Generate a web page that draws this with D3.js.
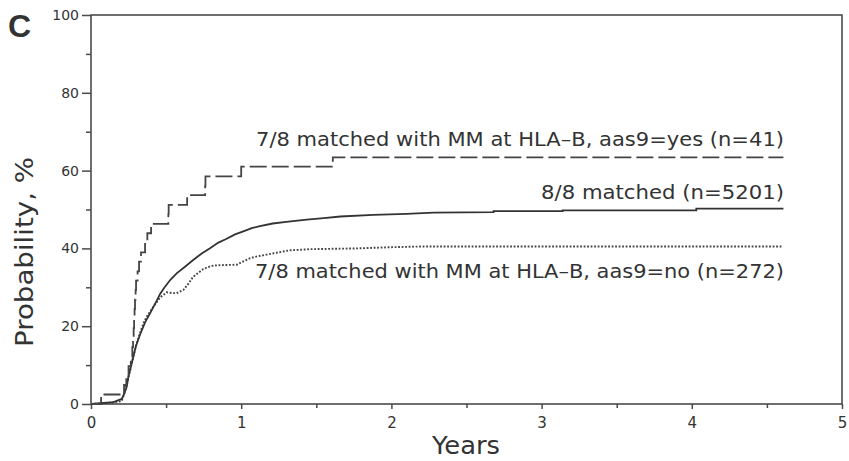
<!DOCTYPE html>
<html><head><meta charset="utf-8">
<script src="https://cdn.jsdelivr.net/npm/d3@7"></script>
<style>body{margin:0;background:#fff}svg{display:block}text{font-family:"DejaVu Sans",sans-serif;fill:#333}</style>
</head><body><svg id="c" width="849" height="461"></svg>
<script>
// ---- data ----
const xTicks = [0,1,2,3,4,5];
const xMinor = [0.5,1.5,2.5,3.5,4.5];
const yTicks = [0,20,40,60,80,100];
const yMinor = [10,30,50,70,90];

// 7/8 matched, aas9=yes (n=41) — step function
const yesTimes  = [0,0.067,0.22,0.235,0.25,0.265,0.275,0.28,0.284,0.287,0.29,0.293,0.297,0.30,0.31,0.32,0.333,0.36,0.375,0.40,0.515,0.517,0.64,0.76,0.762,1.0,1.61,4.61];
const yesValues = [0,2.44,4.88,7.32,9.76,12.2,14.6,17.1,19.5,22.0,24.4,26.8,29.3,31.7,34.1,36.6,39.0,41.5,43.9,46.3,48.8,51.2,53.7,56.1,58.5,61.0,63.4,63.4];

// 8/8 matched (n=5201)
const matchTimes  = [0,0.15,0.204,0.22,0.238,0.249,0.265,0.282,0.30,0.326,0.36,0.393,0.437,0.46,0.49,0.53,0.57,0.626,0.68,0.737,0.79,0.848,0.9,0.959,1.014,1.07,1.125,1.21,1.3,1.436,1.55,1.66,1.88,2.1,2.28,2.68,2.68,3.14,3.14,4.03,4.03,4.61];
const matchValues = [0,0.5,1.3,2.5,4.4,7.0,9.5,12.2,15.0,17.8,21.0,23.3,26.5,28.3,30.0,32.0,33.6,35.3,37.0,38.7,40.0,41.5,42.4,43.6,44.4,45.2,45.7,46.4,46.8,47.4,47.8,48.2,48.6,48.9,49.2,49.3,49.6,49.6,49.8,49.8,50.2,50.2];

// 7/8 matched, aas9=no (n=272)
const noTimes  = [0,0.1,0.204,0.22,0.238,0.26,0.282,0.30,0.326,0.35,0.37,0.415,0.46,0.504,0.54,0.57,0.615,0.65,0.68,0.748,0.8,0.86,0.97,1.0,1.06,1.1,1.17,1.21,1.32,1.46,1.77,1.99,2.21,4.6];
const noValues = [0,0.2,0.7,2.5,5.3,8.5,12.2,15.0,18.2,20.8,22.4,25.0,27.4,28.7,28.5,28.5,29.3,31.0,32.7,34.7,35.5,35.7,35.8,36.4,37.5,37.9,38.4,38.7,39.5,39.8,40.0,40.3,40.5,40.5];

const labels = ["7/8 matched with MM at HLA\u2013B, aas9=yes (n=41)", "8/8 matched (n=5201)", "7/8 matched with MM at HLA\u2013B, aas9=no (n=272)"];

// ---- chart ----
const svg = d3.select("#c");
const x = d3.scaleLinear().domain([0,5]).range([91,842]);
const y = d3.scaleLinear().domain([0,100]).range([404,15]);
const ink = "#4a4a4a";

// frame
svg.append("rect").attr("x",91).attr("y",15).attr("width",751).attr("height",389)
  .attr("fill","none").attr("stroke",ink).attr("stroke-width",1.6);

function styleAxis(g){ g.select(".domain").remove(); g.selectAll("line").attr("stroke",ink).attr("stroke-width",1.5); }

svg.append("g").attr("transform","translate(91,0)")
  .call(d3.axisLeft(y).tickValues(yTicks).tickSize(9).tickPadding(3).tickFormat(d3.format("d")))
  .call(styleAxis)
  .call(g=>g.selectAll("text").attr("font-size",14).attr("fill","#333").style("font-family","DejaVu Sans"));
svg.append("g").attr("transform","translate(91,0)")
  .call(d3.axisLeft(y).tickValues(yMinor).tickSize(5).tickFormat(""))
  .call(styleAxis);
svg.append("g").attr("transform","translate(0,404)")
  .call(d3.axisBottom(x).tickValues(xTicks).tickSize(5).tickPadding(8).tickFormat(d3.format("d")))
  .call(styleAxis)
  .call(g=>g.selectAll("text").attr("font-size",15).attr("fill","#333").style("font-family","DejaVu Sans"));
svg.append("g").attr("transform","translate(0,404)")
  .call(d3.axisBottom(x).tickValues(xMinor).tickSize(4).tickFormat(""))
  .call(styleAxis);

// curves
const stepLine = d3.line().x(d=>x(d[0])).y(d=>y(d[1])).curve(d3.curveStepAfter);
const lin = d3.line().x(d=>x(d[0])).y(d=>y(d[1]));

svg.append("path").attr("d", lin(d3.zip(noTimes,noValues)))
  .attr("fill","none").attr("stroke","#444").attr("stroke-width",1.9).attr("stroke-dasharray","1.8,1.7");
svg.append("path").attr("d", lin(d3.zip(matchTimes,matchValues)))
  .attr("fill","none").attr("stroke","#333").attr("stroke-width",1.8);
svg.append("path").attr("d", stepLine(d3.zip(yesTimes,yesValues)))
  .attr("fill","none").attr("stroke","#444").attr("stroke-width",1.8).attr("stroke-dasharray","17,5");

// curve labels
const lab = [[labels[0],256,784,146],[labels[1],541,784,199],[labels[2],255,784,278]];
lab.forEach(([t,x0,x1,b])=>{
  svg.append("text").attr("x",x0).attr("y",b).attr("font-size",20)
    .attr("textLength",x1-x0).attr("lengthAdjust","spacingAndGlyphs").text(t);
});

// axis titles
svg.append("text").attr("x",432).attr("y",454).attr("font-size",24)
  .attr("textLength",68).attr("lengthAdjust","spacingAndGlyphs").text("Years");
svg.append("text").attr("transform","translate(33,347) rotate(-90)").attr("font-size",24)
  .attr("textLength",190).attr("lengthAdjust","spacingAndGlyphs").text("Probability, %");

// panel letter
svg.append("text").attr("x",8).attr("y",37).attr("font-size",32).attr("font-weight","bold")
  .style("font-family","Liberation Sans, Arial, sans-serif").attr("fill","#111").text("C");
</script></body></html>
